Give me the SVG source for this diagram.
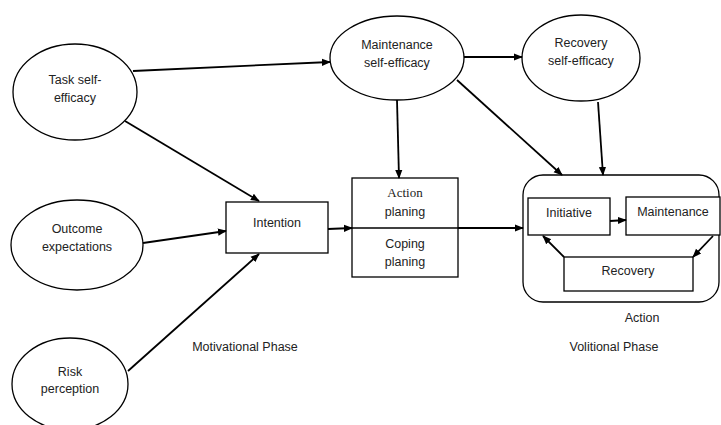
<svg xmlns="http://www.w3.org/2000/svg" width="721" height="425" viewBox="0 0 721 425">
<style>
.n{fill:#fff;stroke:#000;stroke-width:1.3}
.t{font-family:"Liberation Sans",Arial,sans-serif;font-size:12.5px;fill:#222;text-anchor:middle}
.s{font-family:"Liberation Serif","Times New Roman",serif;font-size:13px;fill:#222;text-anchor:middle}
.e{stroke:#000;stroke-width:1.8;fill:none;marker-end:url(#ah)}
</style>
<defs>
<marker id="ah" viewBox="0 0 10 10" refX="9" refY="5" markerWidth="5" markerHeight="5" markerUnits="strokeWidth" orient="auto">
<path d="M0,1 L10,5 L0,9 z" fill="#000"/>
</marker>
</defs>
<rect width="721" height="425" fill="#fff"/>
<g id="task"><ellipse class="n" cx="75" cy="92" rx="62" ry="48"/><text class="t" x="75" y="84">Task self-</text><text class="t" x="75" y="102">efficacy</text></g>
<g id="outcome"><ellipse class="n" cx="77" cy="245" rx="66" ry="45"/><text class="t" x="77" y="233">Outcome</text><text class="t" x="77" y="251">expectations</text></g>
<g id="risk"><ellipse class="n" cx="70" cy="384" rx="58" ry="46"/><text class="t" x="70" y="376">Risk</text><text class="t" x="70" y="393">perception</text></g>
<g id="maint-se"><ellipse class="n" cx="397" cy="58" rx="67" ry="42"/><text class="t" x="397" y="49">Maintenance</text><text class="t" x="397" y="67">self-efficacy</text></g>
<g id="recov-se"><ellipse class="n" cx="581" cy="58" rx="59" ry="43"/><text class="t" x="581" y="47">Recovery</text><text class="t" x="581" y="65">self-efficacy</text></g>
<g id="intention"><rect class="n" x="226" y="202" width="102" height="51"/><text class="t" x="277" y="227">Intention</text></g>
<g id="planning"><rect class="n" x="352" y="178" width="106" height="99"/><line x1="352" y1="228" x2="458" y2="228" stroke="#000" stroke-width="1.3"/><text class="s" x="405" y="197">Action</text><text class="t" x="405" y="216">planing</text><text class="t" x="405" y="248">Coping</text><text class="t" x="405" y="266">planing</text></g>
<g id="action"><rect class="n" x="523" y="175" width="196" height="127" rx="20"/>
<g id="initiative"><rect class="n" x="528" y="198" width="82" height="37"/><text class="t" x="569" y="217">Initiative</text></g>
<g id="maintenance"><rect class="n" x="626" y="197" width="94" height="38"/><text class="t" x="673" y="216">Maintenance</text></g>
<g id="recovery"><rect class="n" x="564" y="257" width="129" height="34"/><text class="t" x="628" y="275">Recovery</text></g>
</g>
<g id="labels">
<text class="t" x="642" y="322">Action</text>
<text class="t" x="245" y="351">Motivational Phase</text>
<text class="t" x="614" y="351">Volitional Phase</text>
</g>
<g id="connectors">
<line class="e" x1="133" y1="71" x2="330" y2="62"/>
<line class="e" x1="125" y1="121" x2="259" y2="201"/>
<line class="e" x1="143" y1="243" x2="226" y2="231"/>
<line class="e" x1="128" y1="371" x2="259" y2="254"/>
<line class="e" x1="397" y1="100" x2="399" y2="178"/>
<line class="e" x1="457" y1="80" x2="562" y2="175"/>
<line class="e" x1="464" y1="57" x2="522" y2="57"/>
<line class="e" x1="598" y1="102" x2="603" y2="175"/>
<line class="e" x1="328" y1="229" x2="352" y2="228"/>
<line class="e" x1="458" y1="228" x2="523" y2="228"/>
<line class="e" x1="610" y1="221" x2="626" y2="220"/>
<line class="e" x1="713" y1="236" x2="693" y2="257"/>
<line class="e" x1="564" y1="257" x2="543" y2="236"/>
</g>
</svg>
